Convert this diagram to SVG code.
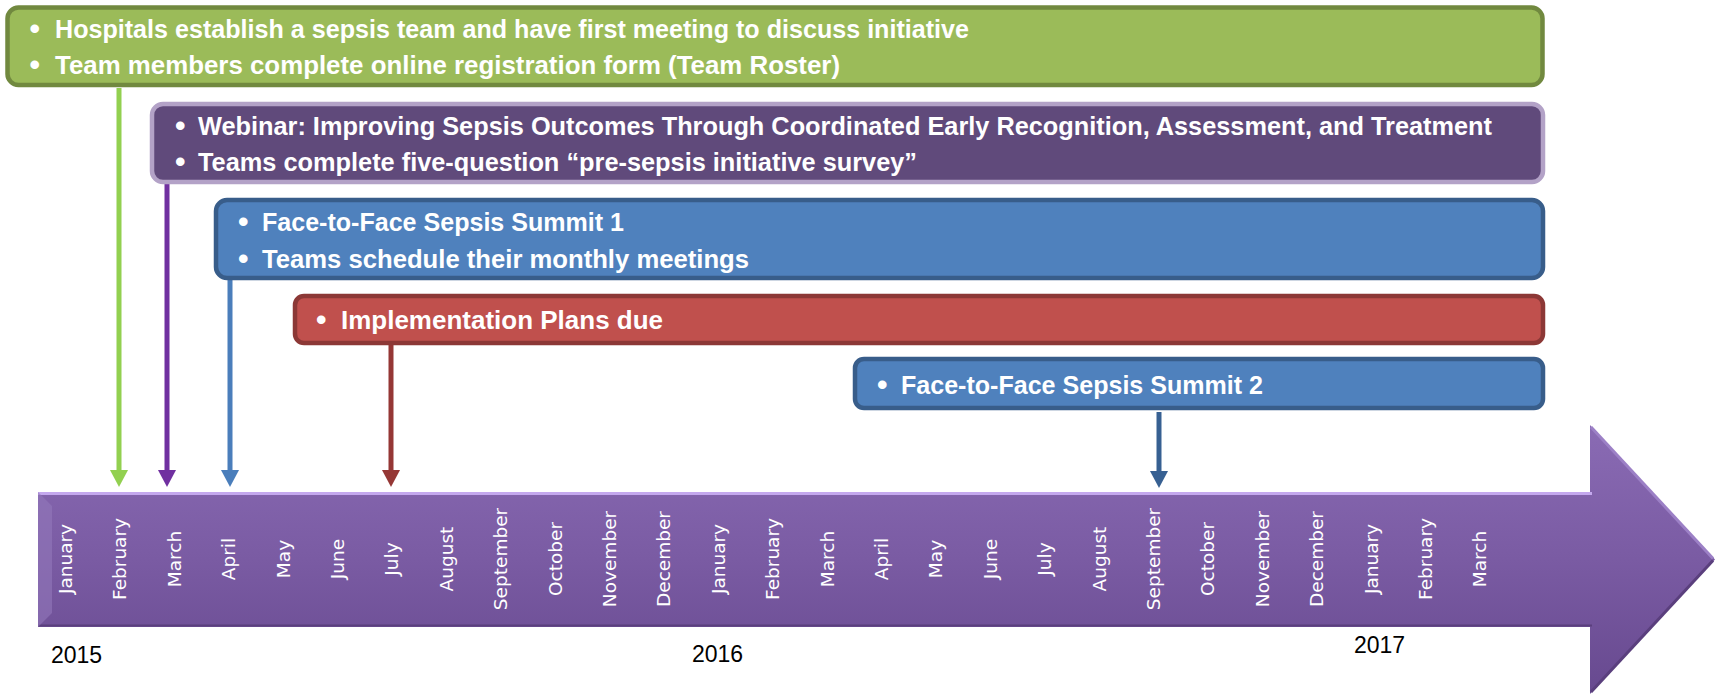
<svg xmlns="http://www.w3.org/2000/svg" width="1715" height="694" viewBox="0 0 1715 694">
<defs>
<style>
.box{stroke-width:4.5}
.g{fill:#9BBB59;stroke:#71893F}
.p{fill:#604A7B;stroke:#B3A2C7}
.b{fill:#4F81BD;stroke:#385D8A}
.r{fill:#C0504D;stroke:#8C3836}
.t{font-family:"Liberation Sans",Arial,sans-serif;font-weight:bold;font-size:25px;fill:#FFFFFF}
.bul{font-family:"Liberation Sans",Arial,sans-serif;font-weight:bold;font-size:30px;fill:#FFFFFF}
.m{font-family:"DejaVu Sans",Verdana,sans-serif;font-size:18.5px;fill:#FFFFFF;text-anchor:middle}
.y{font-family:"Liberation Sans",Arial,sans-serif;font-size:23px;fill:#000000}
.c{stroke-width:5;fill:none}
</style>
<linearGradient id="barGrad" gradientUnits="userSpaceOnUse" x1="0" y1="425" x2="0" y2="694">
<stop offset="0" stop-color="#8A6BB4"/>
<stop offset="0.5" stop-color="#7A5BA3"/>
<stop offset="1" stop-color="#67498F"/>
</linearGradient>
</defs>

<g id="timeline">
<path d="M38,492 L1590,492 L1590,425 L1715,559.5 L1590,694 L1590,627 L38,627 Z" fill="url(#barGrad)"/>
<path d="M38,493.5 L1592,493.5" stroke="#C4A8EE" stroke-width="3"/>
<path d="M38,625.5 L1592,625.5" stroke="#5A3F7D" stroke-width="2"/>
<path d="M1591,427 L1713,558.5" stroke="#9C80C6" stroke-width="3"/>
<path d="M1591,692 L1713,560.5" stroke="#5A3F7D" stroke-width="3"/>
<path d="M38,492 L52,506 L52,613 L38,627 Z" fill="#9378BB" opacity="0.6"/>
</g>

<g id="months">
<text class="m" transform="translate(72,559) rotate(-90)">January</text>
<text class="m" transform="translate(126.4,559) rotate(-90)">February</text>
<text class="m" transform="translate(180.8,559) rotate(-90)">March</text>
<text class="m" transform="translate(235.2,559) rotate(-90)">April</text>
<text class="m" transform="translate(289.6,559) rotate(-90)">May</text>
<text class="m" transform="translate(344,559) rotate(-90)">June</text>
<text class="m" transform="translate(398.4,559) rotate(-90)">July</text>
<text class="m" transform="translate(452.8,559) rotate(-90)">August</text>
<text class="m" transform="translate(507.2,559) rotate(-90)">September</text>
<text class="m" transform="translate(561.6,559) rotate(-90)">October</text>
<text class="m" transform="translate(616,559) rotate(-90)">November</text>
<text class="m" transform="translate(670.4,559) rotate(-90)">December</text>
<text class="m" transform="translate(724.8,559) rotate(-90)">January</text>
<text class="m" transform="translate(779.2,559) rotate(-90)">February</text>
<text class="m" transform="translate(833.6,559) rotate(-90)">March</text>
<text class="m" transform="translate(888,559) rotate(-90)">April</text>
<text class="m" transform="translate(942.4,559) rotate(-90)">May</text>
<text class="m" transform="translate(996.8,559) rotate(-90)">June</text>
<text class="m" transform="translate(1051.2,559) rotate(-90)">July</text>
<text class="m" transform="translate(1105.6,559) rotate(-90)">August</text>
<text class="m" transform="translate(1160,559) rotate(-90)">September</text>
<text class="m" transform="translate(1214.4,559) rotate(-90)">October</text>
<text class="m" transform="translate(1268.8,559) rotate(-90)">November</text>
<text class="m" transform="translate(1323.2,559) rotate(-90)">December</text>
<text class="m" transform="translate(1377.6,559) rotate(-90)">January</text>
<text class="m" transform="translate(1432,559) rotate(-90)">February</text>
<text class="m" transform="translate(1486.4,559) rotate(-90)">March</text>
</g>

<g id="years">
<text class="y" x="51" y="663">2015</text>
<text class="y" x="692" y="662">2016</text>
<text class="y" x="1354" y="653">2017</text>
</g>

<g id="connectors">
<path class="c" d="M119,88 L119,472" stroke="#92D050"/>
<path d="M110,470 L128,470 L119,487 Z" fill="#92D050"/>
<path class="c" d="M167,184 L167,472" stroke="#7030A0"/>
<path d="M158,470 L176,470 L167,487 Z" fill="#7030A0"/>
<path class="c" d="M230,280 L230,472" stroke="#4A7EBB"/>
<path d="M221,470 L239,470 L230,487 Z" fill="#4A7EBB"/>
<path class="c" d="M391,345 L391,472" stroke="#953735"/>
<path d="M382,470 L400,470 L391,487 Z" fill="#953735"/>
<path class="c" d="M1159,412 L1159,472" stroke="#376092"/>
<path d="M1150,471 L1168,471 L1159,488 Z" fill="#376092"/>
</g>

<g id="node-team">
<rect class="box g" x="7.5" y="7.5" width="1535" height="77.5" rx="11"/>
<text class="bul" x="29.5" y="38.5">•</text>
<text class="t" x="55" y="38" textLength="914" lengthAdjust="spacingAndGlyphs">Hospitals establish a sepsis team and have first meeting to discuss initiative</text>
<text class="bul" x="29.5" y="74.5">•</text>
<text class="t" x="55" y="74" textLength="785" lengthAdjust="spacingAndGlyphs">Team members complete online registration form (Team Roster)</text>
</g>

<g id="node-webinar">
<rect class="box p" x="152" y="104" width="1391" height="78" rx="11"/>
<text class="bul" x="175" y="135.5">•</text>
<text class="t" x="198" y="135" textLength="1294" lengthAdjust="spacingAndGlyphs">Webinar: Improving Sepsis Outcomes Through Coordinated Early Recognition, Assessment, and Treatment</text>
<text class="bul" x="175" y="171.5">•</text>
<text class="t" x="198" y="171" textLength="719" lengthAdjust="spacingAndGlyphs">Teams complete five-question “pre-sepsis initiative survey”</text>
</g>

<g id="node-summit1">
<rect class="box b" x="216" y="200" width="1327" height="78" rx="11"/>
<text class="bul" x="238" y="231.5">•</text>
<text class="t" x="262" y="231" textLength="362" lengthAdjust="spacingAndGlyphs">Face-to-Face Sepsis Summit 1</text>
<text class="bul" x="238" y="268.5">•</text>
<text class="t" x="262" y="268" textLength="487" lengthAdjust="spacingAndGlyphs">Teams schedule their monthly meetings</text>
</g>

<g id="node-plans">
<rect class="box r" x="295" y="296" width="1248" height="47" rx="9"/>
<text class="bul" x="316" y="329.5">•</text>
<text class="t" x="341" y="329" textLength="322" lengthAdjust="spacingAndGlyphs">Implementation Plans due</text>
</g>

<g id="node-summit2">
<rect class="box b" x="855" y="359" width="688" height="49" rx="9"/>
<text class="bul" x="877" y="394.5">•</text>
<text class="t" x="901" y="394" textLength="362" lengthAdjust="spacingAndGlyphs">Face-to-Face Sepsis Summit 2</text>
</g>
</svg>
